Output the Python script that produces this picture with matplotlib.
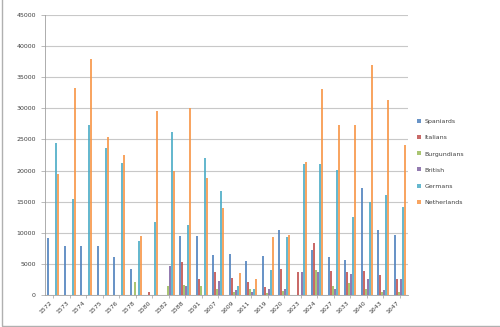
import numpy as np
import matplotlib
matplotlib.use("Agg")
import matplotlib.pyplot as plt
from matplotlib.patches import Rectangle

years = ["1572", "1573", "1574", "1575", "1576", "1578", "1580", "1582", "1588", "1591", "1607",
         "1609", "1611", "1619", "1620", "1623", "1624", "1627", "1633", "1640", "1643", "1647"]

spaniards   = [9200, 7900, 7900, 7900, 6100, 4200, 0, 0, 9500, 9500, 6400,
               6600, 5500, 6300, 10400, 0, 7200, 6100, 5600, 17200, 10400, 9700]
italians    = [0, 0, 0, 0, 0, 0, 400, 0, 5300, 2600, 3700,
               2700, 2100, 1300, 4200, 3700, 8300, 3900, 3700, 3800, 3200, 2500]
burgundians = [0, 0, 0, 0, 0, 2100, 0, 1400, 1600, 1500, 1000,
               500, 1000, 300, 600, 0, 4000, 1500, 2000, 1000, 500, 500]
british     = [0, 0, 0, 0, 0, 0, 0, 4700, 1500, 0, 2200,
               800, 500, 900, 1000, 3700, 3700, 1000, 3400, 2500, 800, 2500]
germans     = [24400, 15500, 27300, 23600, 21200, 8700, 11800, 26200, 11200, 22000, 16700,
               1500, 1000, 4000, 9300, 21000, 21000, 20100, 12500, 14900, 16000, 14200]
netherlands = [19400, 33300, 37900, 25400, 22500, 9500, 29500, 19900, 30100, 18800, 14000,
               3500, 2600, 9300, 9600, 21400, 33100, 27300, 27300, 37000, 31400, 24100]

series = [("Spaniards", spaniards, "#4F81BD"),
          ("Italians", italians, "#C0504D"),
          ("Burgundians", burgundians, "#9BBB59"),
          ("British", british, "#8064A2"),
          ("Germans", germans, "#4BACC6"),
          ("Netherlands", netherlands, "#F79646")]

fig = plt.figure(figsize=(5, 3.27), dpi=100)
ax = fig.add_axes([0.09, 0.098, 0.726, 0.856])

x = np.arange(len(years))
w = 0.125
for i, (name, vals, col) in enumerate(series):
    ax.bar(x + (i - 2.5) * w, vals, width=w * 0.95, color=col, edgecolor="none",
           alpha=0.85, label=name, zorder=3)

ax.set_xlim(-0.5, len(years) - 0.5)
ax.set_ylim(0, 45000)
ax.set_yticks(np.arange(0, 45001, 5000))
ax.set_xticks(x)
ax.set_xticklabels(years, rotation=45, ha="right", fontsize=4.5, color="#404040")
ax.tick_params(axis="y", labelsize=4.5, colors="#404040", length=3, width=0.5, color="#a0a0a0")
ax.tick_params(axis="x", length=2, width=0.5, color="#a0a0a0", pad=2)
ax.grid(axis="y", color="#c8c8c8", linewidth=0.8, zorder=0)
for s in ["top", "right"]:
    ax.spines[s].set_visible(False)
for s in ["left", "bottom"]:
    ax.spines[s].set_color("#a0a0a0")
    ax.spines[s].set_linewidth(0.6)

ax.legend(loc="center left", bbox_to_anchor=(1.01, 0.475), frameon=False, fontsize=4.5,
          handlelength=0.6, handleheight=0.6, labelspacing=1.75, handletextpad=0.6,
          labelcolor="#404040")

fig.patches.append(Rectangle((0.004, 0.004), 1.2, 1.2, transform=fig.transFigure,
                             fill=False, edgecolor="#b0b0b0", linewidth=1.0))

fig.savefig("out.png", dpi=100)
